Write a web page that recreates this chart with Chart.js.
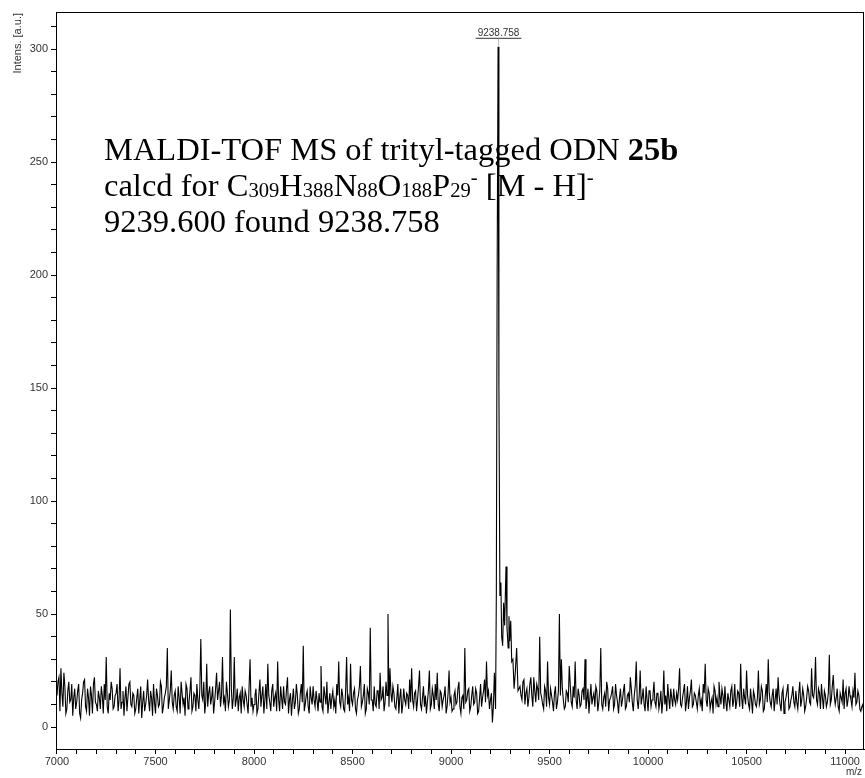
<!DOCTYPE html>
<html>
<head>
<meta charset="utf-8">
<script src="https://cdn.jsdelivr.net/npm/chart.js@4.4.1/dist/chart.umd.min.js"></script>
<style>
  html, body { margin: 0; padding: 0; background: #fff; }
  #wrap { width: 865px; height: 778px; }
</style>
</head>
<body>
<div id="wrap"><canvas id="spectrum"></canvas></div>
<script>
// spectrum; noise read at 7000, 7010, ... (A) and 7005, 7015, ... (B)
const lowStartA = 7000
const lowMassA = [
  14, 22, 26, 9, 18, 8, 20, 12, 5, 17,
  11, 19, 4, 15, 21, 7, 13, 18, 6, 22,
  10, 16, 8, 14, 19, 31, 6, 12, 17, 9,
  15, 7, 26, 11, 5, 18, 13, 20, 9, 14,
  8, 17, 12, 4, 16, 10, 21, 7, 13, 19,
  6, 14, 10, 18, 9, 15, 35, 12, 25, 8,
  16, 7, 13, 20, 10, 5, 17, 11, 22, 9,
  14, 19, 8, 39, 12, 6, 28, 15, 10, 18,
  11, 24, 16, 9, 31, 13, 20, 9, 52, 8,
  31, 12, 7, 15, 18, 9, 14, 6, 30, 13,
  10, 17, 8, 21, 14, 6, 19, 28, 11, 16,
  9, 15, 29, 7, 13, 18, 10, 22, 12, 5,
  17, 11, 14, 8, 19, 36, 10, 16, 6, 13,
  18, 9, 12, 15, 27, 7, 14, 20, 11, 8,
  16, 12, 19, 29, 9, 14, 7, 31, 13, 28,
  10, 17, 6, 14, 27, 11, 19, 8, 15, 44,
  12, 18, 9, 16, 24, 13, 7, 20, 50, 26,
  11, 15, 8, 19, 13, 6, 17, 10, 14, 21,
  26, 9, 16, 12, 25, 8, 18, 14, 11, 25,
  10, 14, 19, 24, 7, 15, 12, 18, 9, 25,
  13, 8, 16, 11, 20, 6, 14, 35, 12, 17,
  9, 18, 11, 15, 7, 19, 13, 21, 29, 16,
  12, 2, 24,
]
const lowStartB = 7005
const lowMassB = [
  20, 7, 15, 24, 6, 16, 11, 19, 13, 8,
  16, 6, 12, 20, 9, 17, 5, 14, 19, 11,
  7, 13, 18, 6, 12, 9, 15, 20, 8, 14,
  19, 12, 8, 16, 13, 7, 19, 10, 15, 6,
  13, 6, 18, 11, 7, 14, 12, 16, 5, 11,
  17, 9, 20, 6, 13, 18, 8, 16, 11, 14,
  9, 18, 6, 15, 13, 19, 8, 16, 7, 15,
  7, 12, 17, 14, 20, 11, 9, 18, 13, 6,
  17, 12, 20, 14, 11, 7, 15, 12, 17, 13,
  9, 17, 13, 6, 12, 16, 10, 18, 9, 7,
  14, 6, 15, 9, 18, 12, 8, 14, 7, 19,
  13, 7, 12, 18, 8, 11, 17, 6, 15, 12,
  8, 19, 6, 15, 11, 7, 14, 9, 18, 10,
  12, 16, 7, 11, 9, 18, 10, 6, 15, 13,
  9, 6, 14, 11, 17, 8, 16, 10, 7, 12,
  15, 8, 12, 18, 9, 14, 6, 17, 10, 12,
  7, 10, 16, 8, 12, 18, 11, 14, 9, 15,
  18, 9, 13, 6, 17, 10, 12, 15, 8, 11,
  12, 15, 7, 18, 10, 13, 9, 6, 16, 8,
  17, 8, 12, 10, 16, 9, 14, 6, 15, 11,
  7, 14, 10, 17, 9, 13, 8, 11, 16, 7,
  14, 10, 17, 6, 13, 9, 16, 11, 14, 8,
  15, 9,
]
// [M - H]- peak and its shoulder
const peakMz = [9226, 9230, 9234, 9238.758, 9243, 9248, 9253, 9257, 9262, 9267, 9272, 9279,
  9284, 9290, 9294, 9298, 9303, 9308, 9314, 9320, 9326, 9333, 9340]
const peakInt = [8, 60, 200, 301, 150, 58, 64, 40, 36, 55, 45, 71,
  44, 35, 49, 38, 47, 29, 30, 17, 24, 35, 16]
const highStartA = 9350
const highMassA = [
  18, 12, 21, 15, 9, 19, 14, 22, 11, 17,
  40, 13, 8, 16, 29, 10, 14, 7, 18, 11,
  50, 30, 12, 9, 15, 27, 11, 18, 29, 8,
  14, 10, 17, 30, 12, 6, 19, 13, 9, 16,
  11, 35, 8, 15, 20, 7, 13, 18, 10, 14,
  6, 17, 12, 19, 9, 15, 22, 11, 14, 29,
  8, 25, 13, 10, 18, 7, 16, 12, 20, 9,
  15, 11, 6, 25, 14, 19, 8, 13, 17, 10,
  12, 26, 9, 16, 7, 18, 13, 21, 10, 14,
  8, 17, 12, 19, 28, 9, 15, 11, 6, 16,
  13, 20, 10, 14, 18, 7, 12, 16, 9, 19,
  11, 15, 28, 8, 13, 25, 10, 17, 6, 14,
  9, 25, 12, 16, 8, 19, 30, 11, 14, 7,
  17, 22, 10, 15, 6, 13, 19, 9, 14, 11,
  16, 8, 20, 12, 14, 9, 18, 11, 26, 13,
  31, 10, 15, 19, 8, 14, 11, 32, 12, 23,
  10, 17, 7, 13, 21, 15, 9, 18, 12, 16,
  24, 11, 14, 7, 10, 5,
]
const highStartB = 9355
const highMassB = [
  14, 20, 10, 17, 13, 22, 9, 16, 19, 12,
  15, 10, 18, 9, 13, 17, 11, 15, 8, 16,
  14, 17, 8, 16, 11, 19, 9, 13, 12, 17,
  9, 16, 12, 8, 17, 13, 10, 15, 18, 7,
  16, 10, 13, 9, 17, 12, 15, 8, 19, 11,
  13, 9, 16, 8, 14, 11, 17, 7, 18, 12,
  14, 10, 17, 7, 12, 16, 9, 14, 11, 15,
  8, 16, 12, 10, 7, 13, 17, 9, 12, 15,
  17, 10, 13, 19, 11, 8, 16, 9, 15, 11,
  14, 10, 7, 15, 12, 17, 8, 13, 18, 10,
  9, 14, 17, 8, 11, 15, 9, 18, 12, 8,
  16, 9, 13, 17, 10, 14, 8, 12, 16, 10,
  13, 10, 18, 7, 14, 11, 15, 9, 17, 12,
  10, 14, 7, 17, 11, 16, 8, 12, 18, 9,
  11, 15, 9, 17, 7, 13, 16, 10, 14, 17,
  12, 17, 8, 13, 16, 9, 15, 10, 18, 14,
  13, 9, 15, 11, 8, 17, 12, 14, 9, 13,
  10, 16, 8, 9, 6,
]
const xLabels = [7000, 7500, 8000, 8500, 9000, 9500, 10000, 10500, 11000]
const yLabels = [0, 50, 100, 150, 200, 250, 300]
const peakLabel = '9238.758'
const yTitle = 'Intens. [a.u.]'
const xTitle = 'm/z'

const points = []
const addRun = (start, vals) => vals.forEach((v, i) => points.push({ x: start + i * 10, y: v }))
addRun(lowStartA, lowMassA)
addRun(lowStartB, lowMassB)
peakMz.forEach((m, i) => points.push({ x: m, y: peakInt[i] }))
addRun(highStartA, highMassA)
addRun(highStartB, highMassB)
points.sort((p, q) => p.x - q.x)

// major ticks carry labels, minor ticks in between (5 per major step)
function tickList(labels, minor, lo, hi) {
  const out = []
  for (let v = labels[0] - 5 * minor; v <= hi; v += minor) {
    if (v >= lo) out.push({ value: v })
  }
  return out
}

Chart.defaults.font.family = 'Liberation Sans, Arial, sans-serif'
Chart.defaults.font.size = 11
Chart.defaults.color = '#333'

const serif = '"Liberation Serif", "Times New Roman", serif'

// draws the frame, axis titles, peak label and the caption
const decor = {
  id: 'decor',
  beforeDatasetsDraw(chart) {
    const { ctx } = chart
    const a = chart.chartArea
    ctx.save()
    ctx.fillStyle = '#000'
    ctx.textBaseline = 'alphabetic'
    const big = '32.5px ' + serif
    const bold = 'bold 32.5px ' + serif
    const small = '20.6px ' + serif
    let x = a.left + 48
    let y = a.top + 148
    const put = (t, font, dy) => {
      ctx.font = font
      ctx.fillText(t, x, y + (dy || 0))
      x += ctx.measureText(t).width
    }
    put('MALDI-TOF MS of trityl-tagged ODN ', big)
    put('25b', bold)
    x = a.left + 48
    y += 36
    put('calcd for C', big); put('309', small, 1)
    put('H', big); put('388', small, 1)
    put('N', big); put('88', small, 1)
    put('O', big); put('188', small, 1)
    put('P', big); put('29', small, 1)
    put('-', small, -12)
    put(' [M - H]', big)
    put('-', small, -12)
    x = a.left + 48
    y += 36
    put('9239.600 found 9238.758', big)
    ctx.restore()
  },
  afterDraw(chart) {
    const { ctx } = chart
    const a = chart.chartArea
    const sx = chart.scales.x
    const sy = chart.scales.y
    ctx.save()
    ctx.strokeStyle = '#000'
    ctx.lineWidth = 1
    ctx.strokeRect(a.left + 0.5, a.top + 0.5, a.right - a.left - 1, a.bottom - a.top)

    // peak label
    const px = Math.round(sx.getPixelForValue(peakMz[3])) + 0.5
    const py = sy.getPixelForValue(peakInt[3])
    ctx.font = '10px "Liberation Sans", Arial, sans-serif'
    ctx.fillStyle = '#333'
    ctx.textAlign = 'center'
    ctx.fillText(peakLabel, px, py - 11)
    const w = ctx.measureText(peakLabel).width
    ctx.strokeStyle = '#333'
    ctx.beginPath()
    ctx.moveTo(px - w / 2 - 2, py - 8.5)
    ctx.lineTo(px + w / 2 + 2, py - 8.5)
    ctx.stroke()
    ctx.strokeStyle = '#bbb'
    ctx.beginPath()
    ctx.moveTo(px, py - 8)
    ctx.lineTo(px, py - 1)
    ctx.stroke()

    // axis titles
    ctx.fillStyle = '#333'
    ctx.font = '10px "Liberation Sans", Arial, sans-serif'
    ctx.textAlign = 'right'
    ctx.fillText(xTitle, a.right - 2, chart.height - 3)
    ctx.font = '11px "Liberation Sans", Arial, sans-serif'
    ctx.translate(21, a.top + 1)
    ctx.rotate(-Math.PI / 2)
    ctx.fillText(yTitle, 0, 0)
    ctx.restore()
  },
}

new Chart(document.getElementById('spectrum'), {
  type: 'scatter',
  data: {
    datasets: [
      {
        data: points,
        showLine: true,
        borderColor: '#000',
        borderWidth: 1.1,
        pointRadius: 0,
        tension: 0,
      },
    ],
  },
  options: {
    responsive: true,
    maintainAspectRatio: false,
    animation: false,
    layout: { padding: { top: 12, right: 1, left: 0, bottom: 0 } },
    scales: {
      x: {
        type: 'linear',
        position: 'bottom',
        min: 6995,
        max: 11096,
        afterFit: (s) => { s.height = 29 },
        afterBuildTicks: (s) => { s.ticks = tickList(xLabels, 100, 7000, 11096) },
        ticks: {
          autoSkip: false,
          maxRotation: 0,
          minRotation: 0,
          padding: 1,
          callback: (v) => (xLabels.includes(v) ? v : ''),
        },
        grid: { drawOnChartArea: false, drawTicks: true, tickLength: 5, color: '#000' },
        border: { color: '#000', width: 1 },
      },
      y: {
        min: -9.7,
        max: 316.4,
        afterFit: (s) => { s.width = 56 },
        afterBuildTicks: (s) => { s.ticks = tickList(yLabels, 10, 0, 316.4) },
        ticks: {
          autoSkip: false,
          padding: 3,
          callback: (v) => (yLabels.includes(v) ? v : ''),
        },
        grid: { drawOnChartArea: false, tickLength: 5, color: '#000' },
        border: { color: '#000', width: 1 },
      },
    },
    plugins: {
      legend: { display: false },
      tooltip: { enabled: false },
    },
  },
  plugins: [decor],
})
</script>
</body>
</html>
